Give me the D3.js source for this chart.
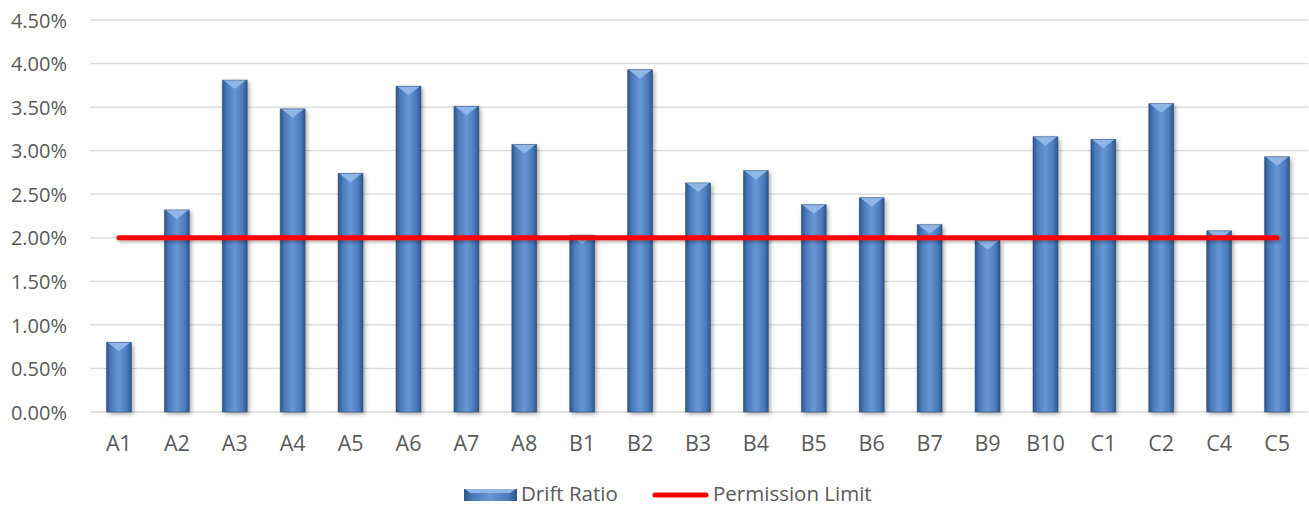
<!DOCTYPE html>
<html><head><meta charset="utf-8">
<script src="https://cdn.jsdelivr.net/npm/d3@7"></script>
<style>body{margin:0;background:#fff}svg{display:block}text{font-family:"Open Sans","Liberation Sans",sans-serif;fill:#595959}</style>
</head><body><svg id="c" width="1309" height="506"></svg>
<script>
const categories=["A1","A2","A3","A4","A5","A6","A7","A8","B1","B2","B3","B4","B5","B6","B7","B9","B10","C1","C2","C4","C5"];
const driftRatio=[0.80,2.32,3.81,3.48,2.74,3.74,3.51,3.07,2.03,3.93,2.63,2.77,2.38,2.46,2.15,1.97,3.16,3.13,3.54,2.08,2.93];
const permissionLimit=categories.map(()=>2.00);
const yTicks=[0,0.5,1,1.5,2,2.5,3,3.5,4,4.5];
const legendLabels=["Drift Ratio","Permission Limit"];

const svg=d3.select("#c");
const defs=svg.append("defs");
const g1=defs.append("linearGradient").attr("id","barG").attr("x1","0").attr("x2","1").attr("y1","0").attr("y2","0");
[[0,"#2d5686"],[0.18,"#4a7bbd"],[0.5,"#6896d4"],[0.82,"#4a7bbd"],[1,"#2d5686"]].forEach(s=>g1.append("stop").attr("offset",s[0]).attr("stop-color",s[1]));
const f=defs.append("filter").attr("id","sh").attr("x","-50%").attr("y","-10%").attr("width","200%").attr("height","130%");
f.append("feDropShadow").attr("dx",2).attr("dy",2).attr("stdDeviation",2).attr("flood-color","#000").attr("flood-opacity",0.35);
const fl=defs.append("filter").attr("id","shl").attr("filterUnits","userSpaceOnUse").attr("x",0).attr("y",0).attr("width",1309).attr("height",506);
fl.append("feDropShadow").attr("dx",1).attr("dy",2).attr("stdDeviation",1.5).attr("flood-color","#000").attr("flood-opacity",0.3);

const x=d3.scaleBand().domain(categories).range([90,1306]).paddingInner(0.57).paddingOuter(0.285);
const y=d3.scaleLinear().domain([0,4.5]).range([412,20]);

svg.append("g").selectAll("line").data(yTicks).join("line")
 .attr("x1",90).attr("x2",1308).attr("y1",d=>y(d)).attr("y2",d=>y(d))
 .attr("stroke","#d9d9d9").attr("stroke-width",1.3);

const yAxis=d3.axisLeft(y).tickValues(yTicks).tickFormat(d=>d.toFixed(2)+"%").tickSize(0).tickPadding(0);
const ya=svg.append("g").attr("transform","translate(67,0)").call(yAxis);
ya.select(".domain").remove();
ya.selectAll("text").style("font-size","20px").attr("fill","#595959").attr("dy","0.36em");

const xAxis=d3.axisBottom(x).tickSize(0).tickPadding(0);
const xa=svg.append("g").attr("transform","translate(0,451)").call(xAxis);
xa.select(".domain").remove();
xa.selectAll("text").style("font-size","21.5px").attr("fill","#595959").attr("y",0).attr("dy","0");

const bw=x.bandwidth();
const bars=svg.append("g").selectAll("g").data(categories.map((c,i)=>({c,v:driftRatio[i]}))).join("g");
bars.append("rect").attr("x",d=>x(d.c)).attr("y",d=>y(d.v)).attr("width",bw).attr("height",d=>y(0)-y(d.v))
 .attr("fill","url(#barG)").attr("filter","url(#sh)");
bars.append("path").attr("d",d=>{const x0=x(d.c),t=y(d.v);return `M${x0+1},${t}L${x0+bw-1},${t}L${x0+bw/2},${t+9}Z`;})
 .attr("fill","#8fb6e6");
bars.append("rect").attr("x",d=>x(d.c)).attr("y",d=>y(d.v)).attr("width",bw).attr("height",d=>y(0)-y(d.v))
 .attr("fill","none").attr("stroke","#24466e").attr("stroke-width",0.8).attr("stroke-opacity",0.6);

const line=d3.line().x(d=>x(d.c)+bw/2).y(d=>y(d.v));
svg.append("path").datum(categories.map((c,i)=>({c,v:permissionLimit[i]})))
 .attr("d",line).attr("fill","none").attr("stroke","#ff0000").attr("stroke-width",5).attr("stroke-linecap","round").attr("filter","url(#shl)");

const lg=svg.append("g");
lg.append("rect").attr("x",464).attr("y",489).attr("width",53).attr("height",12).attr("fill","url(#barG)");
lg.append("path").attr("d","M465,489L516,489L510,493L470,493Z").attr("fill","#8fb6e6");
lg.append("text").attr("x",521).attr("y",500.5).style("font-size","20.5px").text(legendLabels[0]);
lg.append("line").attr("x1",655).attr("x2",706).attr("y1",495).attr("y2",495).attr("stroke","#ff0000").attr("stroke-width",5).attr("stroke-linecap","round");
lg.append("text").attr("x",713).attr("y",500.5).style("font-size","20.5px").text(legendLabels[1]);
</script></body></html>
